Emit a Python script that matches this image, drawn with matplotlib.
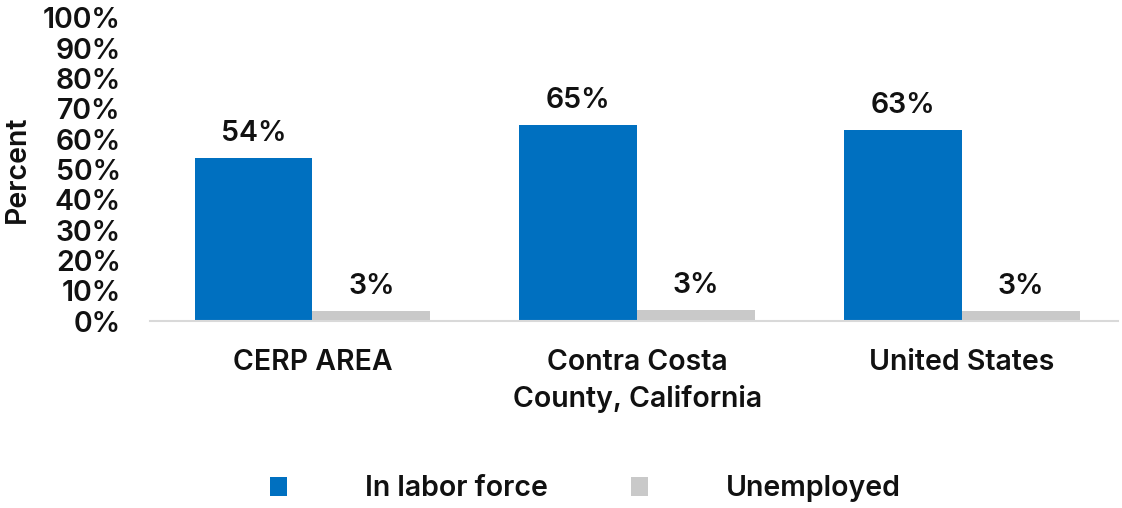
import matplotlib
matplotlib.use("Agg")
import matplotlib.pyplot as plt
import numpy as np

categories = ["CERP AREA", "Contra Costa\nCounty, California", "United States"]
series_names = ["In labor force", "Unemployed"]
labor_force = [53.8, 64.7, 63.0]
unemployed = [3.3, 3.5, 3.3]
labor_labels = ["54%", "65%", "63%"]
unemp_labels = ["3%", "3%", "3%"]
yticks = list(range(0, 101, 10))
ytick_labels = [f"{v}%" for v in yticks]

plt.rcParams['font.family'] = ['Inter', 'DejaVu Sans']
plt.rcParams['font.weight'] = 600
FS = 20.5
WT = 600
TXT = "#111111"
fig = plt.figure(figsize=(11.22, 5.08), dpi=100)
ax = fig.add_axes([150/1122, 1-321/508, (1118-150)/1122, (321-18)/508])

x = np.arange(len(categories))
w = 0.363
blue = "#0070C0"
grey = "#C9C9C9"
b1 = ax.bar(x - w/2, labor_force, w, color=blue, label=series_names[0])
b2 = ax.bar(x + w/2, unemployed, w, color=grey, label=series_names[1])

for rect, lab in zip(b1, labor_labels):
    ax.annotate(lab, (rect.get_x() + rect.get_width()/2, rect.get_height()),
                xytext=(0, 8), textcoords="offset points", ha="center", va="bottom",
                fontsize=FS, color=TXT, fontweight=WT)
for rect, lab in zip(b2, unemp_labels):
    ax.annotate(lab, (rect.get_x() + rect.get_width()/2, rect.get_height()),
                xytext=(0, 8), textcoords="offset points", ha="center", va="bottom",
                fontsize=FS, color=TXT, fontweight=WT)

ax.set_xlim(-0.5, 2.48)
ax.set_ylim(0, 100)
ax.set_yticks(yticks)
ax.set_yticklabels(ytick_labels, fontsize=FS, color=TXT, fontweight=WT)
ax.set_xticks(x)
ax.set_xticklabels(categories, fontsize=FS, color=TXT, linespacing=1.42, fontweight=WT)
ax.tick_params(axis='both', length=0)
ax.tick_params(axis='x', pad=20)
ax.tick_params(axis='y', pad=21)
for s in ["top", "right", "left"]:
    ax.spines[s].set_visible(False)
ax.spines["bottom"].set_color("#D9D9D9")
ax.spines["bottom"].set_linewidth(1.5)
ax.set_ylabel("Percent", fontsize=FS, color=TXT, fontweight=WT)
ax.yaxis.set_label_coords(-(150-31)/968, 0.5)

fig.legend(handles=[b1, b2], labels=series_names, loc="center left",
           bbox_to_anchor=(270/1122, 1-489/508), ncol=2, frameon=False,
           borderpad=0, borderaxespad=0,
           prop={'size': FS, 'weight': WT}, handlelength=0.6, handleheight=0.6,
           handletextpad=2.75, columnspacing=2.9, labelcolor=TXT)

fig.savefig("out.png", dpi=100)
